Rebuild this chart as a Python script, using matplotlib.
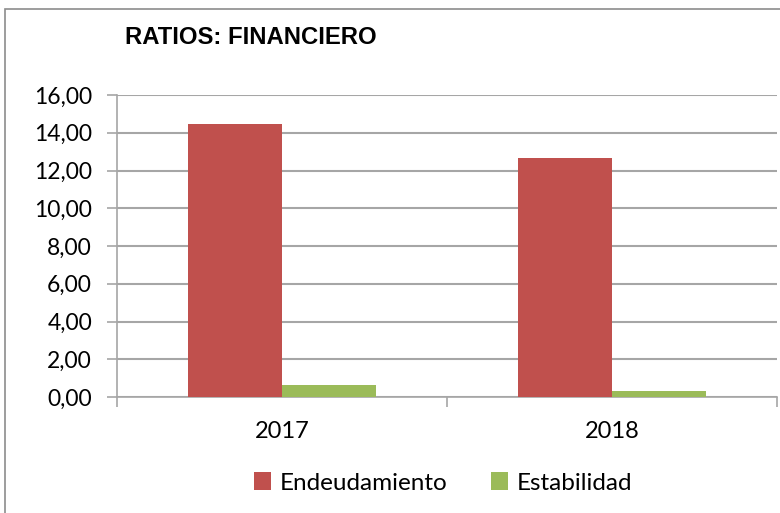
import matplotlib
matplotlib.use("Agg")
import matplotlib.pyplot as plt
import numpy as np
from matplotlib.patches import Rectangle

years = ["2017", "2018"]
endeudamiento = [14.47, 12.68]
estabilidad = [0.63, 0.33]
series_names = ["Endeudamiento", "Estabilidad"]
y_ticks = [0, 2, 4, 6, 8, 10, 12, 14, 16]

red = "#C0504D"
green = "#9BBB59"
grid_color = "#A6A6A6"

fig = plt.figure(figsize=(7.8, 5.13), dpi=100)
ax = fig.add_axes([117 / 780, 1 - 397 / 513, 660 / 780, 302 / 513])

x = np.arange(len(years))
w = 0.285
ax.bar(x - w / 2, endeudamiento, w, color=red, label=series_names[0], zorder=3)
ax.bar(x + w / 2, estabilidad, w, color=green, label=series_names[1], zorder=3)

ax.set_xlim(-0.5, 1.5)
ax.set_ylim(0, 16)
ax.set_yticks(y_ticks)
ax.set_yticklabels(["{:.2f}".format(v).replace(".", ",") for v in y_ticks],
                   fontfamily="Lato", fontsize=16.5)
ax.set_xticks(x)
ax.set_xticklabels(years, fontfamily="Lato", fontsize=17)
ax.tick_params(axis="x", length=0, pad=17)
ax.set_xticks([-0.5, 0.5, 1.5], minor=True)
ax.tick_params(axis="x", which="minor", length=7, color=grid_color, width=1.2)
ax.tick_params(axis="y", length=7, color=grid_color, width=1.2, pad=11)

ax.grid(axis="y", color=grid_color, linewidth=1.5, zorder=0)
for s in ["top", "right"]:
    ax.spines[s].set_visible(False)
for s in ["left", "bottom"]:
    ax.spines[s].set_color(grid_color)
    ax.spines[s].set_linewidth(1.2)

fig.text(125 / 780, 1 - 38 / 513, "RATIOS: FINANCIERO", fontsize=17.2, fontweight="bold",
         family="Liberation Sans", va="center", ha="left")

leg = fig.legend(loc="center", bbox_to_anchor=(443 / 780, 1 - 483 / 513), ncol=2,
                 frameon=False, prop={"family": "Lato", "size": 17.5},
                 handlelength=0.7, handleheight=0.7, handletextpad=0.35, columnspacing=1.8)

# outer chart frame, only the left and top edges are inside the image
fig.patches.append(Rectangle((5 / 780, -0.1), 1, 1.1 - 9 / 513, transform=fig.transFigure,
                             fill=False, edgecolor="#8C8C8C", linewidth=1.2))

fig.savefig("out.png", dpi=100)
